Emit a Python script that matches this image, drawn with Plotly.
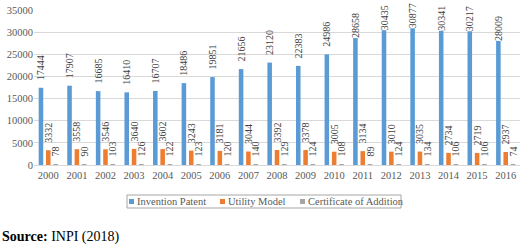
import plotly.graph_objects as go

years = ["2000", "2001", "2002", "2003", "2004", "2005", "2006", "2007", "2008",
         "2009", "2010", "2011", "2012", "2013", "2014", "2015", "2016"]
invention_patent = [17444, 17907, 16685, 16410, 16707, 18486, 19851, 21656, 23120,
                    22383, 24986, 28658, 30435, 30877, 30341, 30217, 28009]
utility_model = [3332, 3558, 3546, 3640, 3602, 3243, 3181, 3044, 3392,
                 3378, 3005, 3134, 3010, 3035, 2734, 2719, 2937]
certificate_addition = [78, 90, 103, 126, 122, 123, 120, 140, 129,
                        124, 108, 89, 124, 134, 106, 106, 74]
y_ticks = [0, 5000, 10000, 15000, 20000, 25000, 30000, 35000]

FONT = "Liberation Serif, Times New Roman, serif"
series = [
    ("Invention Patent", invention_patent, "#5B9BD5"),
    ("Utility Model", utility_model, "#ED7D31"),
    ("Certificate of Addition", certificate_addition, "#A5A5A5"),
]

# plot area in pixels
L, R, T, B = 34, 520, 10, 165
YMAX = 35000
def px(x):
    return (x - L) / (R - L)
def py(y):
    return (B - y) / (B - T)

def label(v):
    # keep a small gap above the bar, like the reference, unless the label would run off the top
    top_px = B - v / YMAX * (B - T)
    pad = "\u00a0\u00a0\u00a0" if top_px > 45 else ""
    return pad + str(v)

fig = go.Figure()
for name, vals, color in series:
    fig.add_trace(go.Bar(
        x=years, y=vals, name=name, marker=dict(color=color, line=dict(width=0)),
        text=[label(v) for v in vals], textposition="outside", textangle=-90,
        constraintext="none", cliponaxis=False, showlegend=False,
        textfont=dict(family=FONT, size=10, color="#404040"),
    ))

# manual legend (layout decoration)
legend_items = [("Invention Patent", "#5B9BD5", 129), ("Utility Model", "#ED7D31", 220),
                ("Certificate of Addition", "#A5A5A5", 300)]
shapes = [dict(type="rect", xref="paper", yref="paper", x0=px(127), x1=px(401),
               y0=py(208), y1=py(195), line=dict(color="#A6A6A6", width=1),
               fillcolor="rgba(0,0,0,0)")]
annotations = []
for text, color, xs in legend_items:
    shapes.append(dict(type="rect", xref="paper", yref="paper", x0=px(xs), x1=px(xs + 5),
                       y0=py(204), y1=py(199), line=dict(width=0), fillcolor=color))
    annotations.append(dict(text=text, xref="paper", yref="paper", x=px(xs + 6),
                            y=py(201.5), xanchor="left", yanchor="middle", showarrow=False,
                            font=dict(family=FONT, size=10.5, color="#595959")))
annotations.append(dict(
    text="<b>Source:</b> INPI (2018)", xref="paper", yref="paper",
    x=px(0), y=py(237), xanchor="left", yanchor="middle",
    showarrow=False, font=dict(family=FONT, size=14, color="black"),
))

fig.update_layout(
    width=520, height=245,
    margin=dict(l=L, r=520 - R, t=T, b=245 - B),
    paper_bgcolor="white", plot_bgcolor="white",
    barmode="group", bargap=0.23, bargroupgap=0.38,
    font=dict(family=FONT, size=10.5, color="#595959"),
    showlegend=False,
    xaxis=dict(showgrid=False, showline=True, linecolor="#D9D9D9", ticks="",
               tickfont=dict(family=FONT, size=10.5, color="#595959")),
    yaxis=dict(range=[0, YMAX], tickvals=y_ticks, tickformat="d", showgrid=True,
               gridcolor="#D9D9D9", zeroline=False, showline=False, ticks="",
               tickfont=dict(family=FONT, size=10.5, color="#595959")),
    shapes=shapes,
    annotations=annotations,
)

fig.write_html("out.html")
